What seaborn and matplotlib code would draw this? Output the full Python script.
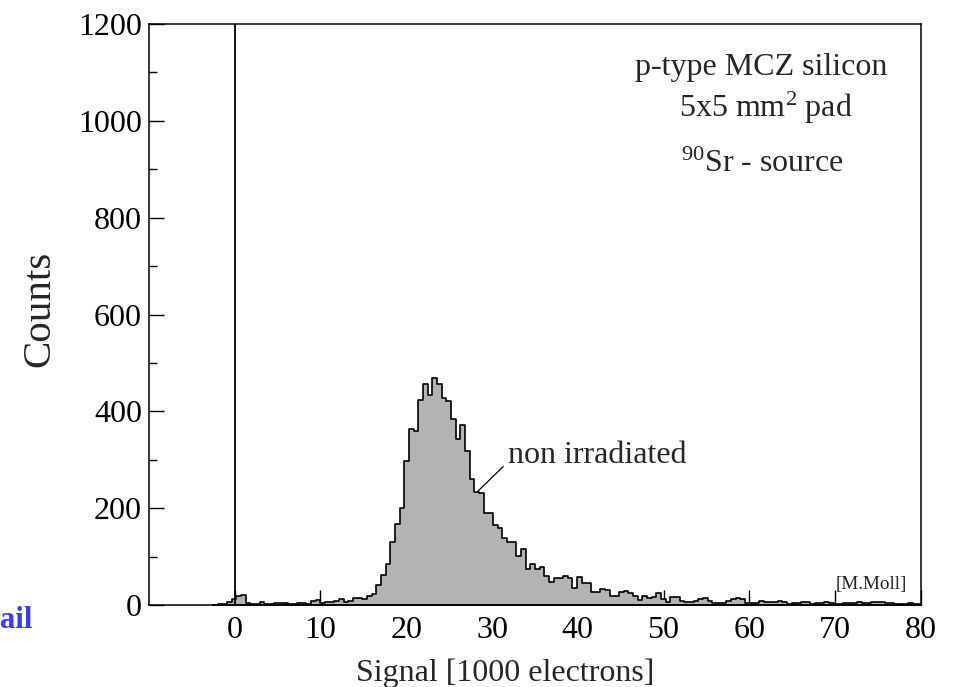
import numpy as np
import pandas as pd
import matplotlib
matplotlib.use("Agg")
import matplotlib.pyplot as plt
from matplotlib.ticker import MultipleLocator
import seaborn as sns

# histogram bins (signal in 1000 electrons)
hist_start = -2.52
bin_width = 0.544

# counts per bin
counts_pedestal = [0, 1, 2, 7, 12, 19, 21, 5, 3, 3, 6, 3, 3, 5, 5, 5, 3, 3, 5, 5,
                   3, 8, 11, 5, 7, 7, 9, 13, 6, 9, 15, 15, 12, 18]
counts_peak = [23, 41, 62, 84, 130, 167, 201, 297, 364, 359, 424, 457, 433, 468, 457,
               428, 421, 384, 342, 371, 319, 260, 233, 232, 191, 191, 165, 160, 138, 131,
               131, 101, 115, 74, 85, 74, 78, 60, 48, 55, 55, 60, 55, 35, 58]
counts_tail = [46, 46, 27, 27, 33, 31, 19, 19, 26, 29, 24, 19, 10, 19, 14, 16, 24, 12, 7, 16, 16,
               8, 6, 7, 8, 12, 14, 9, 4, 5, 5, 8, 12, 14, 12, 4, 5, 5, 9, 7, 6, 7, 8, 6, 3, 5, 5, 6, 7,
               3, 5, 5, 6, 4, 3, 2, 4, 5, 5, 6, 5, 4, 6, 7, 7, 5, 4, 3, 2, 3, 4, 3, 2]

x_ticks = [0, 10, 20, 30, 40, 50, 60, 70, 80]
y_ticks = [0, 200, 400, 600, 800, 1000, 1200]

counts = counts_pedestal + counts_peak + counts_tail
edges = hist_start + bin_width * np.arange(len(counts) + 1)
df = pd.DataFrame({'signal': 0.5 * (edges[:-1] + edges[1:]), 'count': counts})

sns.set_theme(style="ticks")
plt.rcParams['font.family'] = ['Liberation Serif', 'DejaVu Serif']
plt.rcParams['mathtext.fontset'] = 'custom'
plt.rcParams['mathtext.rm'] = 'Liberation Serif'
plt.rcParams['mathtext.it'] = 'Liberation Serif:italic'

fig = plt.figure(figsize=(9.54, 6.87), dpi=100)
ax = fig.add_axes([0.156, 0.1194, 0.8094, 0.8456])

sns.histplot(data=df, x='signal', weights='count', bins=edges.tolist(), element='step',
             fill=True, color='#b3b3b3', edgecolor='black', linewidth=1.2, alpha=1, ax=ax)

ax.axvline(0, color='black', lw=1.3)

ax.set_xlim(-10, 80)
ax.set_ylim(0, 1200)
ax.set_xticks(x_ticks)
ax.set_yticks(y_ticks)
ax.yaxis.set_minor_locator(MultipleLocator(100))
ax.tick_params(axis='both', which='both', direction='in', labelsize=23,
               color='black', labelcolor='black')
ax.tick_params(axis='x', which='major', pad=8)
ax.tick_params(axis='y', which='major', pad=5)
ax.tick_params(axis='both', which='major', length=11, width=1)
ax.tick_params(axis='y', which='minor', length=6, width=1)
for s in ax.spines.values():
    s.set_color('black')
    s.set_linewidth(1.1)

ax.set_xlabel('Signal [1000 electrons]', fontsize=23)
ax.xaxis.set_label_coords(0.462, -0.093)
ax.set_ylabel('Counts', fontsize=29.5)
ax.yaxis.set_label_coords(-0.117, 0.51)

ax.text(61.4, 1095, 'p-type MCZ silicon', fontsize=23, ha='center', va='baseline')
ax.text(61.9, 1009, '5x5 mm$^2$ pad', fontsize=23, ha='center', va='baseline')
ax.text(61.5, 895, '$^{90}$Sr - source', fontsize=23, ha='center', va='baseline')
ax.text(31.86, 293, 'non irradiated', fontsize=23, ha='left', va='baseline')
ax.plot([28.3, 31.3], [234, 286], color='black', lw=0.9)
ax.text(74.2, 34, '[M.Moll]', fontsize=13.8, ha='center', va='baseline')

fig.text(0.0, 0.086, 'ail', fontsize=22, fontweight='bold', color='#3a3aff',
         ha='left', va='baseline')

fig.savefig('out.png', dpi=100)
